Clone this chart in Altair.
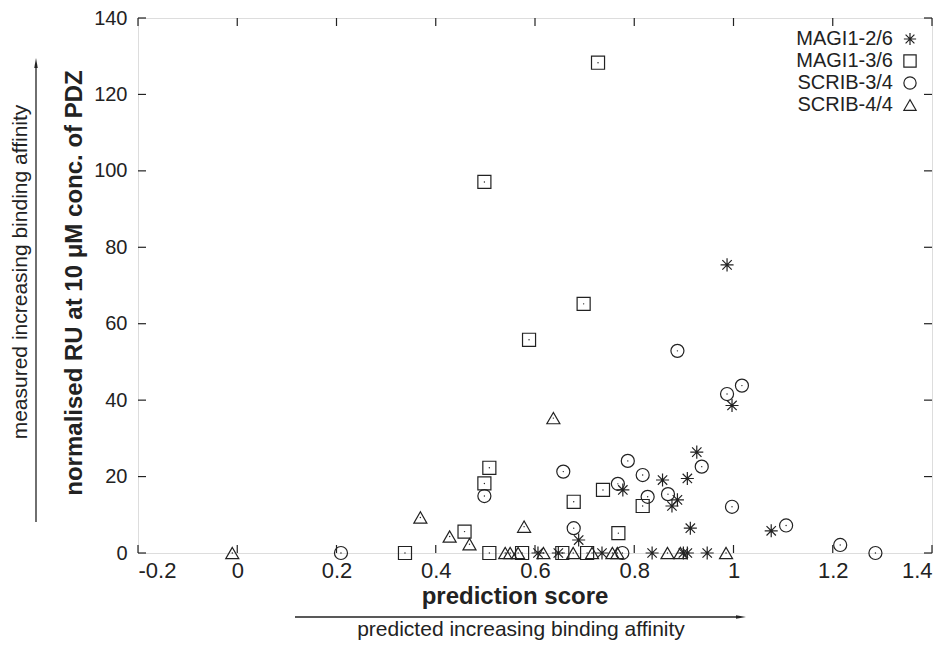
import altair as alt
import pandas as pd

series_names = ["MAGI1-2/6", "MAGI1-3/6", "SCRIB-3/4", "SCRIB-4/4"]

magi26_x = [0.987, 0.997, 0.926, 0.907, 0.857, 0.777, 0.887, 0.876, 0.913, 1.076, 0.688,
            0.606, 0.647, 0.735, 0.836, 0.899, 0.907, 0.947]
magi26_y = [75.4, 38.6, 26.4, 19.5, 19.1, 16.5, 13.9, 12.3, 6.5, 5.8, 3.4,
            0, 0, 0, 0, 0, 0, 0]

magi36_x = [0.727, 0.498, 0.698, 0.588, 0.508, 0.498, 0.737, 0.678, 0.817, 0.768, 0.458,
            0.338, 0.508, 0.574, 0.655, 0.705]
magi36_y = [128.3, 97.1, 65.2, 55.8, 22.3, 18.2, 16.5, 13.4, 12.3, 5.2, 5.6,
            0, 0, 0, 0, 0]

scrib34_x = [0.887, 1.017, 0.987, 0.936, 0.787, 0.817, 0.767, 0.827, 0.868, 0.997, 1.106,
             1.215, 0.498, 0.657, 0.678, 0.209, 0.776, 1.286]
scrib34_y = [52.9, 43.8, 41.6, 22.6, 24.1, 20.4, 18.1, 14.7, 15.4, 12.1, 7.2,
             2.1, 14.9, 21.3, 6.5, 0, 0, 0]

scrib44_x = [0.637, 0.578, 0.428, 0.369, 0.468, -0.010, 0.540, 0.550, 0.566, 0.617,
             0.677, 0.715, 0.756, 0.766, 0.867, 0.893, 0.985]
scrib44_y = [35.3, 6.9, 4.3, 9.3, 2.3, 0, 0, 0, 0, 0,
             0, 0, 0, 0, 0, 0, 0]

x_ticks = [-0.2, 0, 0.2, 0.4, 0.6, 0.8, 1.0, 1.2, 1.4]
y_ticks = [0, 20, 40, 60, 80, 100, 120, 140]

x_title = "prediction score"
x_note = "predicted increasing binding affinity"
y_title = "normalised RU at 10 \u03bcM conc. of PDZ"
y_note = "measured increasing binding affinity"

rows = []
for name, xs, ys in zip(series_names,
                        [magi26_x, magi36_x, scrib34_x, scrib44_x],
                        [magi26_y, magi36_y, scrib34_y, scrib44_y]):
    for xv, yv in zip(xs, ys):
        rows.append({"series": name, "score": xv, "ru": yv})
df = pd.DataFrame(rows)

W, H = 794, 535
INK = "#222222"
FONT = "Liberation Sans"

asterisk = "M-1,0L1,0M0,-1L0,1M-0.72,-0.72L0.72,0.72M-0.72,0.72L0.72,-0.72"

xscale = alt.Scale(domain=[-0.2, 1.4], nice=False, zero=False)
yscale = alt.Scale(domain=[0, 140], nice=False, zero=False)

base = alt.Chart(df)

points = base.mark_point(filled=False, strokeWidth=1.2, opacity=1, color=INK).encode(
    x=alt.X("score:Q", scale=xscale,
            axis=alt.Axis(values=x_ticks, ticks=False, domain=False, grid=False,
                          labelFont=FONT, labelFontSize=22, labelColor=INK,
                          labelPadding=7,
                          labelExpr="datum.value < 0 ? '-' + format(-datum.value, '~g') : format(datum.value, '~g')",
                          title=None)),
    y=alt.Y("ru:Q", scale=yscale,
            axis=alt.Axis(values=y_ticks, ticks=False, domain=False, grid=False,
                          labelFont=FONT, labelFontSize=20, labelColor=INK,
                          labelPadding=11, format="d", title=None)),
    shape=alt.Shape("series:N",
                    scale=alt.Scale(domain=series_names,
                                    range=[asterisk, "square", "circle", "triangle-up"]),
                    legend=alt.Legend(title=None, orient="none", legendX=762, legendY=11,
                                      labelAlign="right", labelOffset={"expr": "-27"},
                                      labelFont=FONT, labelFontSize=20, labelColor=INK,
                                      symbolStrokeColor=INK, symbolStrokeWidth=1.2,
                                      symbolFillColor="transparent",
                                      symbolSize=150, rowPadding=2, padding=0)),
    size=alt.value(170),
)

dots = base.mark_point(filled=True, shape="circle", size=2, color=INK, opacity=1).encode(
    x=alt.X("score:Q", scale=xscale),
    y=alt.Y("ru:Q", scale=yscale),
)

xt = pd.DataFrame({"t": x_ticks})
yt = pd.DataFrame({"t": y_ticks})
tick_bottom = alt.Chart(xt).mark_rule(color=INK, strokeWidth=1.2).encode(
    x=alt.X("t:Q", scale=xscale), y=alt.value(H), y2=alt.value(H - 8))
tick_top = alt.Chart(xt).mark_rule(color=INK, strokeWidth=1.2).encode(
    x=alt.X("t:Q", scale=xscale), y=alt.value(0), y2=alt.value(8))
tick_left = alt.Chart(yt).mark_rule(color=INK, strokeWidth=1.2).encode(
    y=alt.Y("t:Q", scale=yscale), x=alt.value(0), x2=alt.value(8))
tick_right = alt.Chart(yt).mark_rule(color=INK, strokeWidth=1.2).encode(
    y=alt.Y("t:Q", scale=yscale), x=alt.value(W), x2=alt.value(W - 8))

one = pd.DataFrame({"k": [0]})

xtitle = alt.Chart(pd.DataFrame({"t": [x_title]})).mark_text(
    font=FONT, fontSize=24, fontWeight="bold", align="center", baseline="middle", color=INK
).encode(x=alt.value(377), y=alt.value(579), text="t:N")

xnote = alt.Chart(pd.DataFrame({"t": [x_note]})).mark_text(
    font=FONT, fontSize=21, align="center", baseline="alphabetic", color=INK
).encode(x=alt.value(383), y=alt.value(618), text="t:N")

xarrow = alt.Chart(one).mark_rule(color=INK, strokeWidth=1.3).encode(
    x=alt.value(157), x2=alt.value(600), y=alt.value(599))
xhead = alt.Chart(one).mark_point(shape="M1,0L-1,-0.35L-1,0.35Z", filled=True, size=100,
                                  color=INK, opacity=1).encode(
    x=alt.value(603), y=alt.value(599))

ytitle = alt.Chart(pd.DataFrame({"t": [y_title]})).mark_text(
    font=FONT, fontSize=24, fontWeight="bold", angle=270, align="center", baseline="middle",
    color=INK
).encode(x=alt.value(-63), y=alt.value(265), text="t:N")

ynote = alt.Chart(pd.DataFrame({"t": [y_note]})).mark_text(
    font=FONT, fontSize=21, angle=270, align="center", baseline="middle", color=INK
).encode(x=alt.value(-117), y=alt.value(254), text="t:N")

yarrow = alt.Chart(one).mark_rule(color=INK, strokeWidth=1.3).encode(
    x=alt.value(-102), y=alt.value(504), y2=alt.value(48))
yhead = alt.Chart(one).mark_point(shape="M0,-1L0.35,1L-0.35,1Z", filled=True, size=100,
                                  color=INK, opacity=1).encode(
    x=alt.value(-102), y=alt.value(45))

chart = alt.layer(
    tick_bottom, tick_top, tick_left, tick_right,
    points, dots,
    xtitle, xnote, xarrow, xhead, ytitle, ynote, yarrow, yhead,
).properties(
    width=W, height=H,
    autosize=alt.AutoSizeParams(type="none"),
    padding={"left": 130, "top": 10, "right": 4, "bottom": 88},
).configure_view(
    stroke=INK, strokeWidth=1.3
).configure(background="white")

chart.save("out.html", embed_options={"renderer": "svg", "actions": False})
